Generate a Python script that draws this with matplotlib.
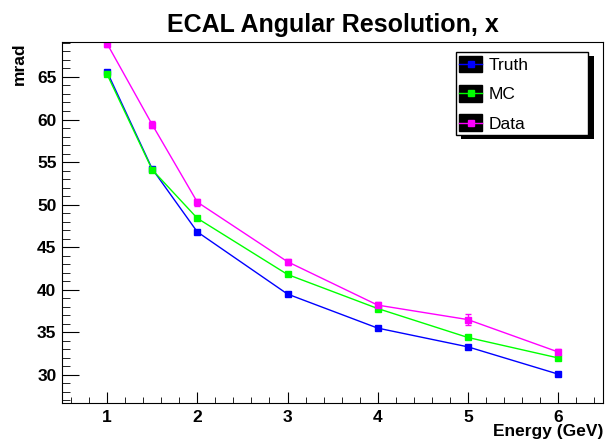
import matplotlib
matplotlib.use('Agg')
import matplotlib.pyplot as plt
from matplotlib.patches import Rectangle
from matplotlib.lines import Line2D
from matplotlib.transforms import IdentityTransform
from matplotlib.ticker import MultipleLocator

plt.rcParams['font.family'] = ['Liberation Sans', 'DejaVu Sans']

energy = [1, 1.5, 2, 3, 4, 5, 6]
truth = [65.6, 54.2, 46.8, 39.5, 35.5, 33.3, 30.1]
truth_err = [0.15, 0.15, 0.15, 0.15, 0.15, 0.15, 0.15]
mc = [65.3, 54.1, 48.4, 41.8, 37.8, 34.4, 32.0]
mc_err = [0.15, 0.15, 0.15, 0.15, 0.15, 0.15, 0.15]
data = [68.9, 59.4, 50.3, 43.3, 38.2, 36.5, 32.7]
data_err = [0.35, 0.45, 0.4, 0.35, 0.35, 0.6, 0.4]

series = [
    ('Truth', truth, truth_err, '#0000ff'),
    ('MC',    mc,    mc_err,    '#00ff00'),
    ('Data',  data,  data_err,  '#ff00ff'),
]


class RootEntry:
    """ROOT-style legend entry: black filled box with the line and marker on top."""
    def legend_artist(self, legend, orig_handle, fontsize, handlebox):
        x0, y0 = -handlebox.xdescent, -handlebox.ydescent
        w, h = handlebox.width, handlebox.height
        col = orig_handle.get_color()
        tr = handlebox.get_transform()
        box = Rectangle((x0, y0), w, h, facecolor='black', edgecolor='black', transform=tr)
        ln = Line2D([x0, x0 + w], [y0 + h / 2] * 2, color=col, lw=1, transform=tr)
        mk = Line2D([x0 + w / 2], [y0 + h / 2], color=col, marker='s', ms=4.5,
                    lw=0, transform=tr)
        for a in (box, ln, mk):
            handlebox.add_artist(a)
        return box


fig = plt.figure(figsize=(6.05, 4.4), dpi=100)
ax = fig.add_axes([0.1025, 0.084, 0.8945, 0.8205])

handles = []
for name, vals, errs, col in series:
    ax.errorbar(energy, vals, yerr=errs, color=col, lw=1, marker='s', ms=5,
                capsize=2, elinewidth=1)
    handles.append(Line2D([], [], color=col))

ax.set_xlim(0.5, 6.5)
ax.set_ylim(26.7, 69.1)
ax.xaxis.set_major_locator(MultipleLocator(1))
ax.xaxis.set_minor_locator(MultipleLocator(0.2))
ax.yaxis.set_major_locator(MultipleLocator(5))
ax.yaxis.set_minor_locator(MultipleLocator(1))
ax.tick_params(which='both', direction='in', top=False, right=False, labelsize=12.5)
ax.tick_params(axis='x', which='major', length=8, pad=5)
ax.tick_params(axis='x', which='minor', length=4)
ax.tick_params(axis='y', which='major', length=12, pad=4)
ax.tick_params(axis='y', which='minor', length=6)
for lab in ax.get_xticklabels() + ax.get_yticklabels():
    lab.set_fontweight('bold')

ax.set_title('ECAL Angular Resolution, x', fontsize=18, fontweight='bold', pad=7)
ax.set_xlabel('Energy (GeV)', fontsize=12.5, fontweight='bold', loc='right', labelpad=-1)
ax.set_ylabel('mrad', fontsize=12.5, fontweight='bold', loc='top', labelpad=7)

leg = ax.legend(handles, [s[0] for s in series], loc='upper left',
                bbox_to_anchor=(0.728, 0.737, 0.244, 0.235), mode='expand',
                handler_map={Line2D: RootEntry()},
                fontsize=12.5, fancybox=False, framealpha=1, edgecolor='black',
                handlelength=1.3, handleheight=1.1, labelspacing=0.7,
                borderpad=0.2, handletextpad=0.4, borderaxespad=0)
leg.get_frame().set_linewidth(1)
leg.set_zorder(6)

# black drop shadow behind the legend box
fig.canvas.draw()
bb = leg.get_window_extent()
shadow = Rectangle((bb.x0 + 5, bb.y0 - 4), bb.width + 1, bb.height, facecolor='black',
                   edgecolor='none', transform=IdentityTransform(), zorder=5, clip_on=False)
ax.add_artist(shadow)

fig.savefig('out.png', dpi=100)
